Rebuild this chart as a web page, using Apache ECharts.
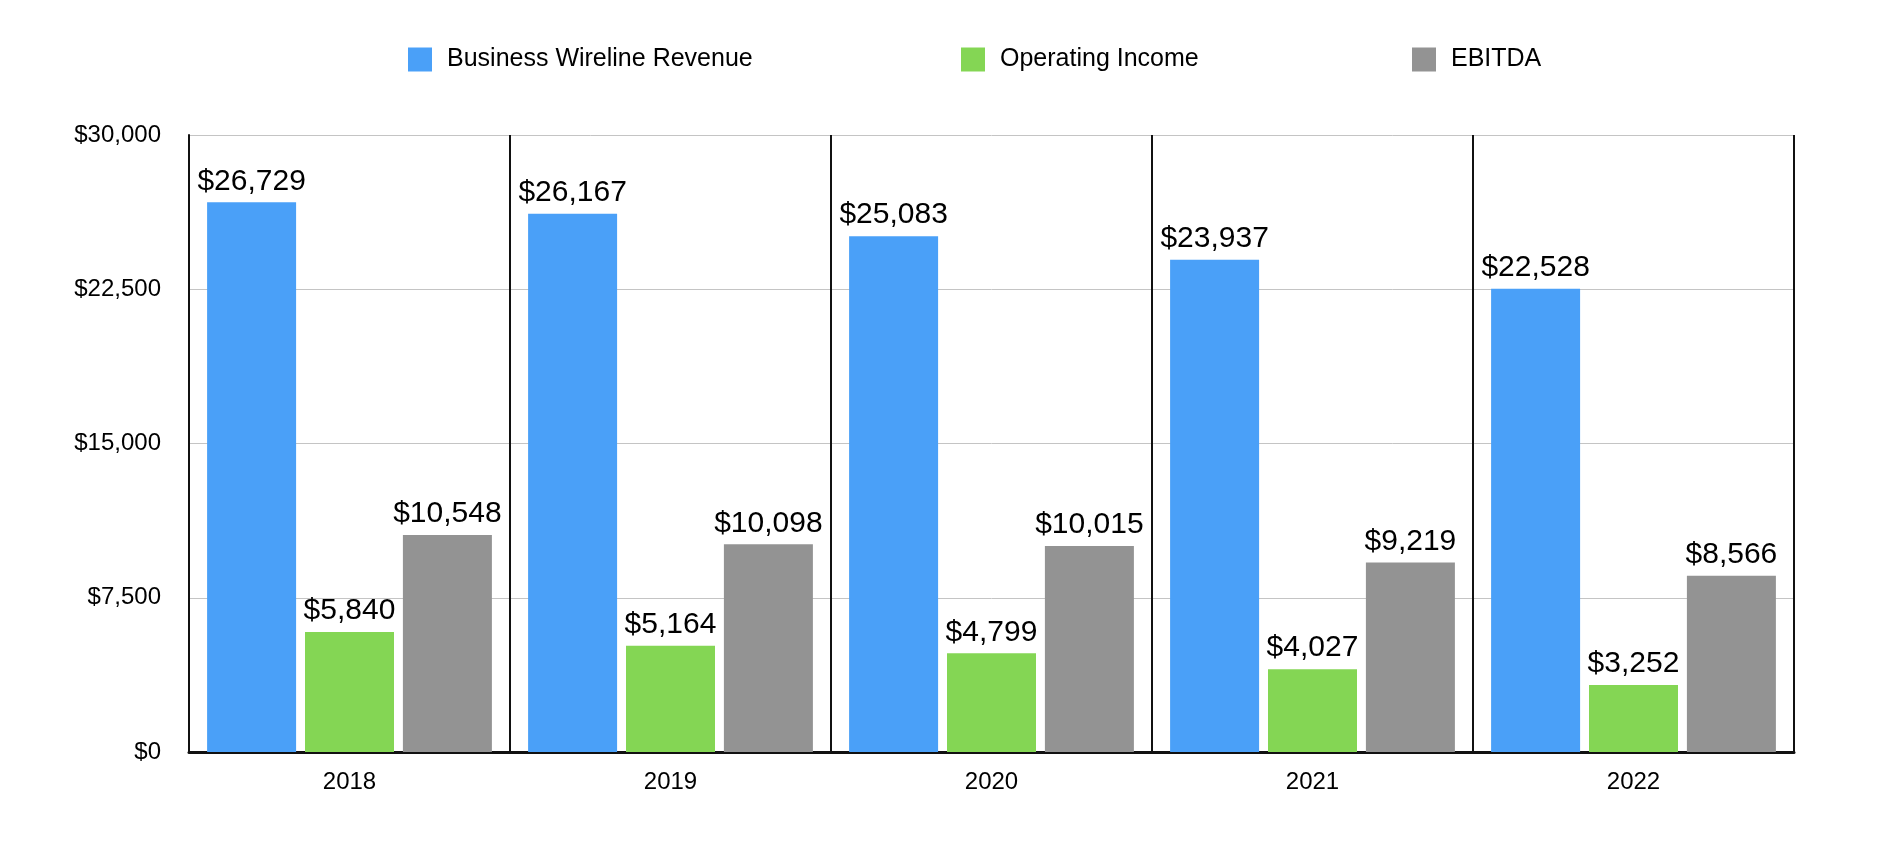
<!DOCTYPE html>
<html>
<head>
<meta charset="utf-8">
<script src="https://cdn.jsdelivr.net/npm/echarts@6/dist/echarts.min.js"></script>
<style>html,body{margin:0;padding:0;background:#fff}#c{width:1886px;height:860px}</style>
</head>
<body>
<div id="c"></div>
<script>
const categories = ['2018', '2019', '2020', '2021', '2022'];
const seriesNames = ['Business Wireline Revenue', 'Operating Income', 'EBITDA'];
const revenue = [26729, 26167, 25083, 23937, 22528];
const operatingIncome = [5840, 5164, 4799, 4027, 3252];
const ebitda = [10548, 10098, 10015, 9219, 8566];
const colors = ['#4AA0F8', '#84D654', '#939393'];

const font = '"Liberation Sans", Arial, Helvetica, sans-serif';
const fmt = v => '$' + Math.round(v).toLocaleString('en-US');
const legendLefts = [408, 961, 1412];

const chart = echarts.init(document.getElementById('c'));
function mk(name, data, color) {
  return {
    name, type: 'bar', data, barWidth: 89, barGap: '10%',
    itemStyle: { color },
    label: { show: true, position: 'top', distance: 6, color: '#000', fontSize: 30, fontFamily: font,
      formatter: p => fmt(p.value) }
  };
}
chart.setOption({
  animation: false,
  textStyle: { fontFamily: font },
  legend: seriesNames.map((n, i) => ({
    left: legendLefts[i], top: 47, padding: 0, itemWidth: 24, itemHeight: 24, icon: 'rect',
    textStyle: { fontSize: 25, color: '#000', fontFamily: font, padding: [0, 0, 0, 10] },
    data: [n]
  })),
  grid: { left: 189, right: 92, top: 135, bottom: 108, containLabel: false },
  xAxis: {
    type: 'category', data: categories,
    axisLine: { show: true, lineStyle: { color: '#111', width: 3 } },
    axisTick: { show: false },
    splitLine: { show: true, lineStyle: { color: '#111', width: 2 } },
    axisLabel: { fontSize: 24, color: '#000', margin: 18, fontFamily: font }
  },
  yAxis: {
    type: 'value', min: 0, max: 30000, interval: 7500,
    axisLine: { show: true, lineStyle: { color: '#111', width: 2 } },
    axisTick: { show: false },
    splitLine: { show: true, lineStyle: { color: '#c4c4c4', width: 1 } },
    axisLabel: { fontSize: 24, color: '#000', margin: 28, fontFamily: font, formatter: v => fmt(v) }
  },
  series: [
    mk(seriesNames[0], revenue, colors[0]),
    mk(seriesNames[1], operatingIncome, colors[1]),
    mk(seriesNames[2], ebitda, colors[2])
  ]
});
</script>
</body>
</html>
